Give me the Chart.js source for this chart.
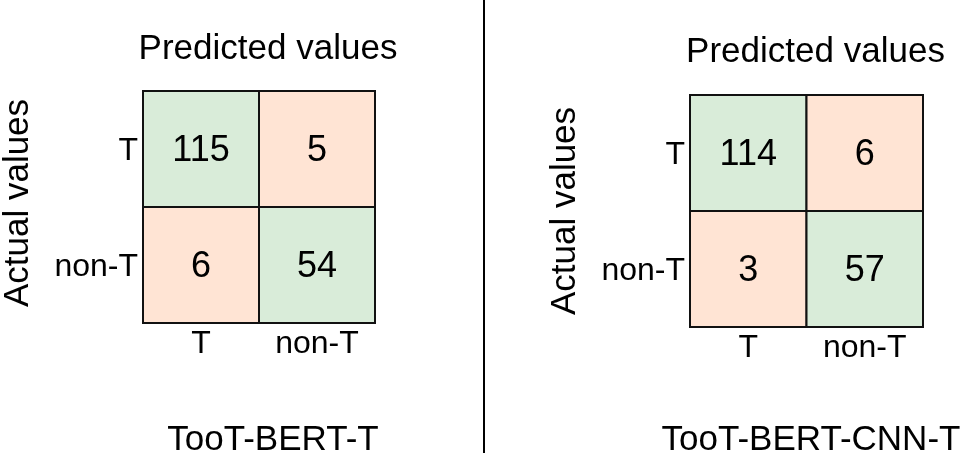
<!DOCTYPE html>
<html><head><meta charset="utf-8">
<script src="https://cdn.jsdelivr.net/npm/chart.js@4/dist/chart.umd.min.js"></script>
<style>
html,body{margin:0;padding:0;background:#fff;width:965px;height:453px;overflow:hidden}
#divider{position:absolute;left:483px;top:0;width:2px;height:453px;background:#000}
canvas{position:absolute;top:0}
</style></head><body>
<canvas id="c1" style="left:0;width:483px;height:453px" width="483" height="453"></canvas>
<div id="divider"></div>
<canvas id="c2" style="left:485px;width:480px;height:453px" width="480" height="453"></canvas>
<script>
const classLabels = ["T", "non-T"];
const leftValues = [[115, 5], [6, 54]];
const rightValues = [[114, 6], [3, 57]];
const leftTitle = "TooT-BERT-T";
const rightTitle = "TooT-BERT-CNN-T";
const xAxisTitle = "Predicted values";
const yAxisTitle = "Actual values";

const GREEN = "#d9ecd9", ORANGE = "#ffe4d4";
const FONT = "'Liberation Sans', Arial, sans-serif";

function toPoints(m){
  const pts=[];
  m.forEach((row,r)=>row.forEach((v,c)=>pts.push({x:c+0.5,y:1.5-r,v:v,diag:r===c})));
  return pts;
}

const cellPlugin = {
  id:'cells',
  afterDatasetsDraw(chart, args, opts){
    const ctx=chart.ctx, xs=chart.scales.x, ys=chart.scales.y;
    const pts=chart.data.datasets[0].data;
    ctx.save();
    pts.forEach(p=>{
      const x0=xs.getPixelForValue(p.x-0.5), x1=xs.getPixelForValue(p.x+0.5);
      const y0=ys.getPixelForValue(p.y+0.5), y1=ys.getPixelForValue(p.y-0.5);
      ctx.fillStyle=p.diag?GREEN:ORANGE;
      ctx.fillRect(x0,y0,x1-x0,y1-y0);
      ctx.lineWidth=2; ctx.strokeStyle="#111";
      ctx.strokeRect(x0,y0,x1-x0,y1-y0);
      ctx.fillStyle="#000"; ctx.font="36px "+FONT;
      ctx.textAlign="center"; ctx.textBaseline="middle";
      ctx.fillText(String(p.v),(x0+x1)/2,(y0+y1)/2+2);
    });
    ctx.font="32px "+FONT; ctx.fillStyle="#000";
    classLabels.forEach((lab,i)=>{
      ctx.textAlign="right"; ctx.textBaseline="middle";
      ctx.fillText(lab, xs.left-5, ys.getPixelForValue(1.5-i)+2);
      ctx.textAlign="center"; ctx.textBaseline="top";
      ctx.fillText(lab, xs.getPixelForValue(i+0.5), ys.bottom+5);
    });
    ctx.font="35px "+FONT;
    ctx.textAlign="center"; ctx.textBaseline="middle";
    ctx.fillText(xAxisTitle,(xs.left+xs.right)/2+opts.titleDx, ys.top-opts.titleGap);
    ctx.save();
    ctx.translate(opts.yTitleX,(ys.top+ys.bottom)/2-opts.yTitleDy);
    ctx.rotate(-Math.PI/2);
    ctx.fillText(yAxisTitle,0,0);
    ctx.restore();
    ctx.font="35px "+FONT;
    ctx.fillText(opts.caption, opts.capX, 440);
    ctx.restore();
  }
};

function make(id, values, pad, opts){
  return new Chart(document.getElementById(id),{
    type:'scatter',
    data:{datasets:[{data:toPoints(values),pointRadius:0}]},
    options:{
      responsive:false, animation:false,
      layout:{padding:pad},
      plugins:{legend:{display:false},tooltip:{enabled:false},cells:opts},
      scales:{
        x:{type:'linear',min:0,max:2,display:false},
        y:{type:'linear',min:0,max:2,display:false}
      }
    },
    plugins:[cellPlugin]
  });
}
make('c1', leftValues, {left:143,right:483-375,top:91,bottom:453-323},
  {titleDx:9,titleGap:42,yTitleX:18,yTitleDy:4,caption:leftTitle,capX:273});
make('c2', rightValues, {left:690-485,right:480-438,top:95,bottom:453-327},
  {titleDx:9,titleGap:43,yTitleX:80,yTitleDy:0,caption:rightTitle,capX:326});
</script>
</body></html>
